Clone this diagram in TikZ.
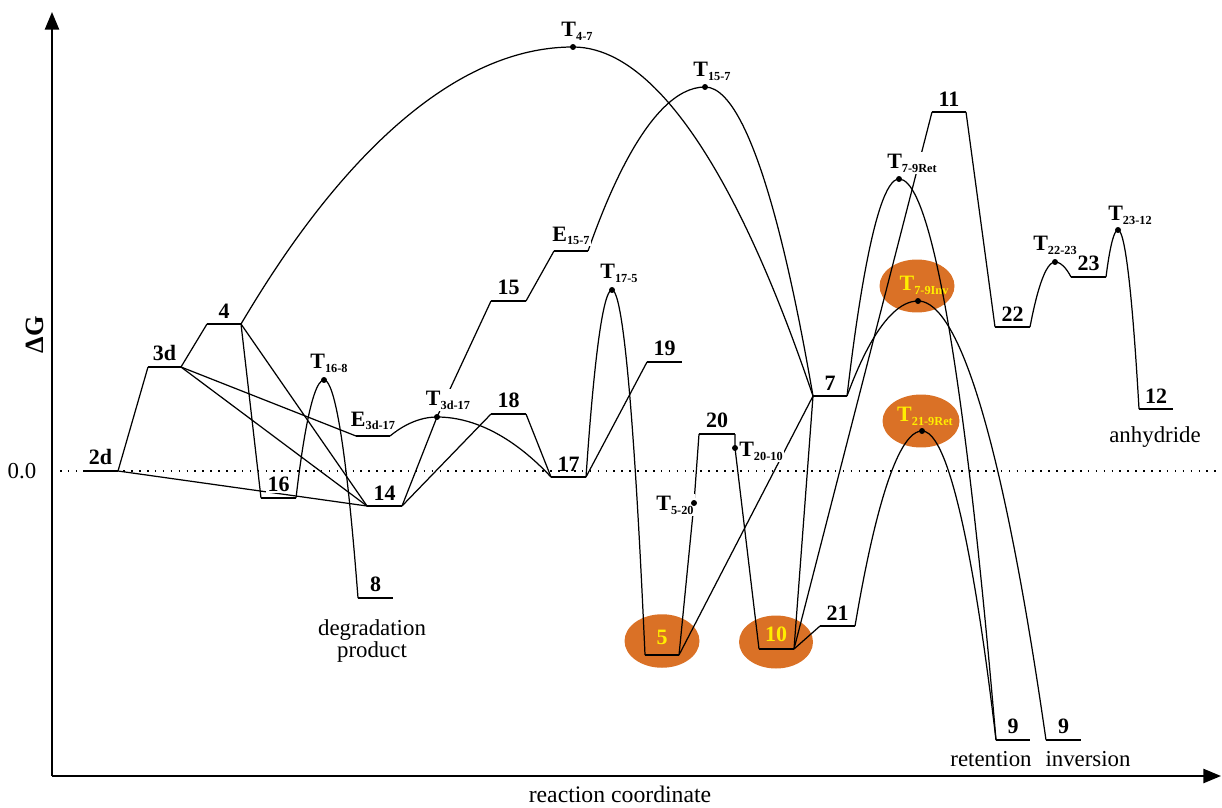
\documentclass[tikz,border=0pt]{standalone}
\usepackage{fontspec}
\setmainfont{Liberation Serif}
\usetikzlibrary{positioning,arrows.meta,shapes.geometric,calc}

\definecolor{blobfill}{RGB}{218,113,38}
\definecolor{blobtext}{RGB}{255,238,0}

% letter with a lowered subscript, as in the energy profile labels
\newcommand{\tsub}[2]{#1\raisebox{-2.2pt}{\fontsize{7}{7}\selectfont #2}}

\begin{document}
\begin{tikzpicture}[
		x=0.02cm, y=-0.02cm,
		>={Triangle[length=10pt,width=8pt]},
		axis/.style={line width=1.2pt},
		lvl/.style={line width=0.85pt},
		conn/.style={line width=0.7pt},
		lab/.style={font=\fontsize{12.5}{14}\selectfont\bfseries, fill=white, inner sep=0.8pt},
		word/.style={font=\fontsize{13}{12.5}\selectfont, align=center, inner sep=0pt},
		blob/.style={ellipse, fill=blobfill, inner sep=0pt, minimum width=1.5cm, minimum height=1.07cm},
		blobtxt/.style={font=\fontsize{12.5}{14}\selectfont\bfseries, text=blobtext, inner sep=0pt},
		tsdot/.style={fill=black}
		]
		\useasboundingbox (0,0) rectangle (1222,807);
		
		% --- AXES ---
		\coordinate (origin) at (52,776);
		\coordinate (ytop) at (52,12);
		\coordinate (xend) at (1221,776);
		\draw[axis,->] (origin) -- (ytop);
		\draw[axis,->] (origin) -- (xend);
		\node[word, font=\fontsize{15}{16}\selectfont\bfseries, rotate=90] (dG) at (35,335) {ΔG};
		\node[word] (zero) at (22,471) {0.0};
		\node[word, font=\fontsize{13.5}{14}\selectfont] (rc) at (620,794) {reaction coordinate};
		
		% --- HIGHLIGHTED SPECIES (drawn behind the profile) ---
		\node[blob] (b5) at (662,641) {};
		\node[blob, minimum width=1.48cm, minimum height=1.06cm] (b10) at (776,642) {};
		\node[blob, minimum height=1.06cm] (bInv) at (917,286) {};
		\node[blob, minimum width=1.54cm, minimum height=1.06cm] (bRet) at (921,421) {};
		
		% --- TRANSITION STATES ---
		\coordinate (T47) at (573,47);
		\coordinate (T157) at (705,87);
		\coordinate (T175) at (612,290);
		\coordinate (T168) at (324,380);
		\coordinate (T3d17) at (437,417);
		\coordinate (T520) at (694,503);
		\coordinate (T2010) at (735,448);
		\coordinate (T79R) at (899,179);
		\coordinate (T79I) at (918,301);
		\coordinate (T219R) at (922,431);
		\coordinate (T2223) at (1055,262);
		\coordinate (T2312) at (1118,230);
		
		% --- LEVEL END POINTS ---
		\foreach \n/\xa/\xb/\y in {2d/83/118/471, 3d/148/181/367, 4/207/241/324,
			16/261/296/498, 14/367/402/506, 8/358/393/598, E3d17/356/390/436,
			18/491/526/414, 17/551/586/477, 15/491/526/301, E157/554/588/251,
			19/647/682/362, 20/699/735/434, 5/645/679/655, 10/759/794/649,
			21/820/855/626, 7/813/847/396, 11/932/966/112, 22/995/1030/327,
			23/1071/1106/277, 12/1139/1173/409, 9r/996/1030/740, 9i/1046/1081/740}{
			\coordinate (\n-l) at (\xa,\y);
			\coordinate (\n-r) at (\xb,\y);
		}
		
		% --- STRAIGHT STEPS ---
		\draw[conn] (2d-r) -- (3d-l);
		\draw[conn] (2d-r) -- (14-l);
		\draw[conn] (3d-r) -- (4-l);
		\draw[conn] (3d-r) -- (E3d17-l);
		\draw[conn] (3d-r) -- (14-l);
		\draw[conn] (4-r) -- (16-l);
		\draw[conn] (4-r) -- (14-l);
		\draw[conn] (14-r) -- (T3d17) -- (15-l);
		\draw[conn] (14-r) -- (18-l);
		\draw[conn] (18-r) -- (17-l);
		\draw[conn] (15-r) -- (E157-l);
		\draw[conn] (17-r) -- (19-l);
		\draw[conn] (5-r) -- (T520) -- (20-l);
		\draw[conn] (5-r) -- (7-l);
		\draw[conn] (20-r) -- (T2010) -- (10-l);
		\draw[conn] (10-r) -- (7-l);
		\draw[conn] (10-r) -- (11-l);
		\draw[conn] (10-r) -- (21-l);
		\draw[conn] (11-r) -- (22-l);
		
		% --- BARRIERS ---
		\draw[conn] (4-r) parabola bend (T47) (7-l);
		\draw[conn] (E157-r) parabola bend (T157) (7-l);
		\draw[conn] (E3d17-r) parabola bend (T3d17) (17-l);
		\draw[conn] (16-r) parabola bend (T168) (8-l);
		\draw[conn] (17-r) parabola bend (T175) (5-l);
		\draw[conn] (7-r) parabola bend (T79R) (9r-l);
		\draw[conn] (7-r) parabola bend (T79I) (9i-l);
		\draw[conn] (21-r) parabola bend (T219R) (9r-l);
		\draw[conn] (22-r) parabola bend (T2223) (23-l);
		\draw[conn] (23-r) parabola bend (T2312) (12-l);
		
		% --- LEVELS AND THEIR LABELS ---
		\foreach \n in {2d,3d,4,16,14,8,E3d17,18,17,15,E157,19,20,5,10,21,7,11,22,23,12,9r,9i}
			\draw[lvl] (\n-l) -- (\n-r);
		\foreach \n/\t in {2d/2d, 3d/3d, 4/4, 16/16, 14/14, 8/8, E3d17/{\tsub{E}{3d-17}},
			18/18, 17/17, 15/15, E157/{\tsub{E}{15-7}}, 19/19, 20/20, 21/21, 7/7,
			11/11, 22/22, 23/23, 12/12, 9r/9, 9i/9}
			\path (\n-l) -- node[lab, above=2.4pt] (\n-lab) {\t} (\n-r);
		
		\node[blobtxt] (l5) at (662,637) {5};
		\node[blobtxt] (l10) at (776,634) {10};
		\node[blobtxt] (lT79I) at (924,285) {\tsub{T}{7-9Inv}};
		\node[blobtxt] (lT219R) at (925,416) {\tsub{T}{21-9Ret}};
		
		\node[lab] (lT47) at (577,31) {\tsub{T}{4-7}};
		\node[lab] (lT157) at (712,71) {\tsub{T}{15-7}};
		\node[lab] (lT175) at (619,273) {\tsub{T}{17-5}};
		\node[lab] (lT168) at (329,363) {\tsub{T}{16-8}};
		\node[lab] (lT3d17) at (448,400) {\tsub{T}{3d-17}};
		\node[lab] (lT79R) at (912,163) {\tsub{T}{7-9Ret}};
		\node[lab] (lT2223) at (1055,245) {\tsub{T}{22-23}};
		\node[lab] (lT2312) at (1130,215) {\tsub{T}{23-12}};
		\node[lab] (lT520) at (675,505) {\tsub{T}{5-20}};
		\node[lab] (lT2010) at (761,451) {\tsub{T}{20-10}};
		
		\foreach \p in {T47,T157,T175,T168,T3d17,T520,T2010,T79R,T79I,T219R,T2223,T2312}
			\fill[tsdot] (\p) circle[radius=1.7pt];
		
		% --- PRODUCT NAMES ---
		\node[word] (wdeg) at (372,641) {degradation\\product};
		\node[word] (wanh) at (1155,437) {anhydride};
		\node[word] (wret) at (991,759) {retention};
		\node[word] (winv) at (1088,759) {inversion};
		
		% --- ZERO LINE ---
		\coordinate (z0) at (60,471);
		\coordinate (z1) at (1222,471);
		\draw[line width=0.8pt, dash pattern=on 0.9pt off 3.6pt] (z0) -- (z1);
		
	\end{tikzpicture}
\end{document}
